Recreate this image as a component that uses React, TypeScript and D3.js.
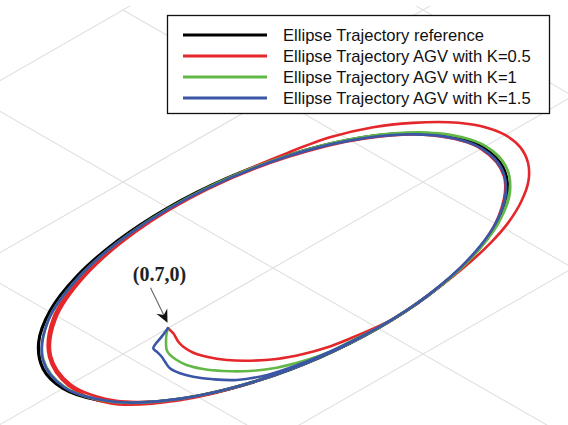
import React from "react";
import * as d3 from "d3";

const WIDTH = 568;
const HEIGHT = 425;

// Reference ellipse x = 1.4 cos t, y = 0.7 sin t, sampled every 15 degrees
const refX = [1.4, 1.352, 1.212, 0.99, 0.7, 0.362, 0.0, -0.362, -0.7, -0.99, -1.212, -1.352,
  -1.4, -1.352, -1.212, -0.99, -0.7, -0.362, 0.0, 0.362, 0.7, 0.99, 1.212, 1.352];
const refY = [0.0, 0.181, 0.35, 0.495, 0.606, 0.676, 0.7, 0.676, 0.606, 0.495, 0.35, 0.181,
  0.0, -0.181, -0.35, -0.495, -0.606, -0.676, -0.7, -0.676, -0.606, -0.495, -0.35, -0.181];

// AGV path, gain K = 0.5 (starts at (0.7, 0))
const k05X = [0.7, 0.712, 0.744, 0.757, 0.758, 0.737, 0.689, 0.616, 0.517, 0.399, 0.283, 0.153, 0.003, -0.146,
  -0.339, -0.621, -0.872, -1.044, -1.214, -1.357, -1.462, -1.527, -1.547, -1.517, -1.434, -1.309, -1.152,
  -0.954, -0.718, -0.479, -0.12, 0.238, 0.683, 1.035, 1.263, 1.365, 1.329, 1.085, 0.7, 0.242, -0.243, -0.7,
  -1.061, -1.303, -1.386, -1.303, -1.061, -0.69, -0.238, 0.236, 0.671, 1.021, 1.252, 1.351, 1.302, 1.147];
const k05Y = [0.0, 0.047, 0.113, 0.159, 0.227, 0.295, 0.381, 0.462, 0.541, 0.601, 0.641, 0.667, 0.689, 0.696,
  0.679, 0.637, 0.579, 0.522, 0.441, 0.346, 0.238, 0.121, 0.0, -0.134, -0.261, -0.378, -0.484,
  -0.568, -0.621, -0.658, -0.687, -0.675, -0.591, -0.434, -0.23, 0.0, 0.242, 0.455, 0.606, 0.686, 0.689, 0.606,
  0.446, 0.237, 0.0, -0.237, -0.446, -0.597, -0.676, -0.669, -0.581, -0.428, -0.228, 0.0, 0.237, 0.402];

// AGV path, gain K = 1
const k1X = [0.7, 0.734, 0.775, 0.831, 0.849, 0.856, 0.852, 0.82, 0.765, 0.676, 0.567, 0.44, 0.297, 0.172,
  0.0, -0.362, -0.702, -0.996, -1.225, -1.369, -1.417, -1.366, -1.22, -0.993, -0.7, -0.242, 0.241, 0.69,
  1.056, 1.296, 1.386, 1.316, 1.072, 0.7, 0.243, -0.243, -0.702, -1.079, -1.331, -1.417, -1.326, -1.076,
  -0.7, -0.242, 0.241, 0.69, 1.056, 1.296, 1.386, 1.316, 1.147];
const k1Y = [0.0, 0.025, 0.062, 0.122, 0.162, 0.214, 0.276, 0.355, 0.433, 0.522, 0.592, 0.642, 0.677, 0.685,
  0.697, 0.676, 0.608, 0.498, 0.354, 0.183, 0.0, -0.183, -0.352, -0.497, -0.606, -0.686, -0.682, -0.597,
  -0.443, -0.235, 0.0, 0.239, 0.45, 0.606, 0.689, 0.689, 0.608, 0.453, 0.242, 0.0, -0.241, -0.451,
  -0.606, -0.686, -0.682, -0.597, -0.443, -0.235, 0.0, 0.239, 0.402];

// AGV path, gain K = 1.5
const k15X = [0.7, 0.77, 0.866, 0.874, 0.887, 0.905, 0.927, 0.922, 0.898, 0.846, 0.772, 0.64, 0.472, 0.241,
  0.0, -0.362, -0.697, -0.983, -1.204, -1.343, -1.39, -1.343, -1.204, -0.983, -0.695, -0.241, 0.24,
  0.69, 1.056, 1.299, 1.39, 1.313, 1.072, 0.7, 0.243, -0.243, -0.697, -1.065, -1.306, -1.39,
  -1.306, -1.065, -0.695, -0.241, 0.24, 0.69, 1.056, 1.299, 1.39, 1.313, 1.147];
const k15Y = [0.0, 0.028, 0.068, 0.099, 0.145, 0.185, 0.24, 0.302, 0.366, 0.448, 0.53, 0.603, 0.648, 0.682,
  0.697, 0.675, 0.603, 0.492, 0.348, 0.18, 0.0, -0.18, -0.348, -0.492, -0.602, -0.682, -0.681,
  -0.597, -0.443, -0.236, 0.0, 0.239, 0.45, 0.606, 0.688, 0.688, 0.603, 0.447, 0.238, 0.0,
  -0.238, -0.447, -0.602, -0.682, -0.681, -0.597, -0.443, -0.236, 0.0, 0.239, 0.402];

const seriesNames = [
  "Ellipse Trajectory reference",
  "Ellipse Trajectory AGV with K=0.5",
  "Ellipse Trajectory AGV with K=1",
  "Ellipse Trajectory AGV with K=1.5",
];
const seriesColors = ["#000000", "#e5262a", "#62b847", "#3b56a6"];

// floor grid
const gridXValues = [-2, -1, 0, 1, 2, 3];
const gridYValues = [-2, -1, 0, 1, 2];

const startPoint = { x: 0.7, y: 0, label: "(0.7,0)" };

// oblique projection of the x-y plane: screen X follows (y - x), screen Y follows (x + y)
const sx = d3.scaleLinear().domain([0, 1]).range([273, 423]);
const sy = d3.scaleLinear().domain([0, 1]).range([268, 354]);
const project = (x: number, y: number): [number, number] => [sx(y - x), sy(x + y)];

type Pt = [number, number];

export default function App() {
  const open = d3
    .line<Pt>()
    .x((d) => project(d[0], d[1])[0])
    .y((d) => project(d[0], d[1])[1])
    .curve(d3.curveCatmullRom.alpha(0.5));
  const closed = d3
    .line<Pt>()
    .x((d) => project(d[0], d[1])[0])
    .y((d) => project(d[0], d[1])[1])
    .curve(d3.curveCatmullRomClosed.alpha(0.5));

  const zip = (xs: number[], ys: number[]): Pt[] => xs.map((x, i) => [x, ys[i]]);

  const paths = [
    { d: closed(zip(refX, refY)), color: seriesColors[0], w: 3.2 },
    { d: open(zip(k05X, k05Y)), color: seriesColors[1], w: 2.6 },
    { d: open(zip(k1X, k1Y)), color: seriesColors[2], w: 2.6 },
    { d: open(zip(k15X, k15Y)), color: seriesColors[3], w: 2.6 },
  ];

  const gridLines: { a: Pt; b: Pt }[] = [];
  gridXValues.forEach((k) => gridLines.push({ a: project(k, -2), b: project(k, 4) }));
  gridYValues.forEach((k) => gridLines.push({ a: project(-3, k), b: project(4, k) }));

  // annotation arrow toward the start point
  const [px, py] = project(startPoint.x, startPoint.y);
  const tip: Pt = [px - 0.5, py - 5.5];
  const tail: Pt = [tip[0] - 17, tip[1] - 35];
  const len = Math.hypot(tip[0] - tail[0], tip[1] - tail[1]);
  const dx = (tip[0] - tail[0]) / len;
  const dy = (tip[1] - tail[1]) / len;
  const nx = -dy;
  const ny = dx;
  const headLen = 13;
  const headHalf = 6;
  const back: Pt = [tip[0] - dx * headLen, tip[1] - dy * headLen];
  const notch: Pt = [tip[0] - dx * 8.5, tip[1] - dy * 8.5];
  const head = `M${tip[0]},${tip[1]} L${back[0] + nx * headHalf},${back[1] + ny * headHalf} L${notch[0]},${notch[1]} L${back[0] - nx * headHalf},${back[1] - ny * headHalf} Z`;

  const legendRows = [35, 56, 77, 98];

  return (
    <svg
      width={WIDTH}
      height={HEIGHT}
      style={{ position: "absolute", left: 0, top: 0, display: "block", background: "#fff" }}
    >
      <defs>
        <clipPath id="gridClip">
          <rect x={0} y={6} width={WIDTH} height={HEIGHT - 6} />
        </clipPath>
      </defs>
      <g clipPath="url(#gridClip)">
        {gridLines.map((l, i) => (
          <line key={i} x1={l.a[0]} y1={l.a[1]} x2={l.b[0]} y2={l.b[1]} stroke="#e0e0e0" strokeWidth={1.1} />
        ))}
      </g>

      {paths.map((p, i) => (
        <path key={i} d={p.d || ""} fill="none" stroke={p.color} strokeWidth={p.w} strokeLinejoin="round" strokeLinecap="round" />
      ))}

      <text
        x={159.5}
        y={281}
        textAnchor="middle"
        fontFamily="'Liberation Serif', 'Times New Roman', serif"
        fontWeight="bold"
        fontSize={20}
        fill="#222"
      >
        {startPoint.label}
      </text>
      <line x1={tail[0]} y1={tail[1]} x2={notch[0]} y2={notch[1]} stroke="#666" strokeWidth={1.1} />
      <path d={head} fill="#111" />

      <g>
        <rect x={167.5} y={15.5} width={382} height={98} fill="#fff" stroke="#111" strokeWidth={1.3} />
        {seriesNames.map((name, i) => (
          <g key={name}>
            <line x1={183} x2={267} y1={legendRows[i]} y2={legendRows[i]} stroke={seriesColors[i]} strokeWidth={3} />
            <text
              x={283}
              y={legendRows[i] + 5.5}
              fontFamily="'Liberation Sans', Arial, sans-serif"
              fontSize={16.6}
              fill="#111"
            >
              {name}
            </text>
          </g>
        ))}
      </g>
    </svg>
  );
}
